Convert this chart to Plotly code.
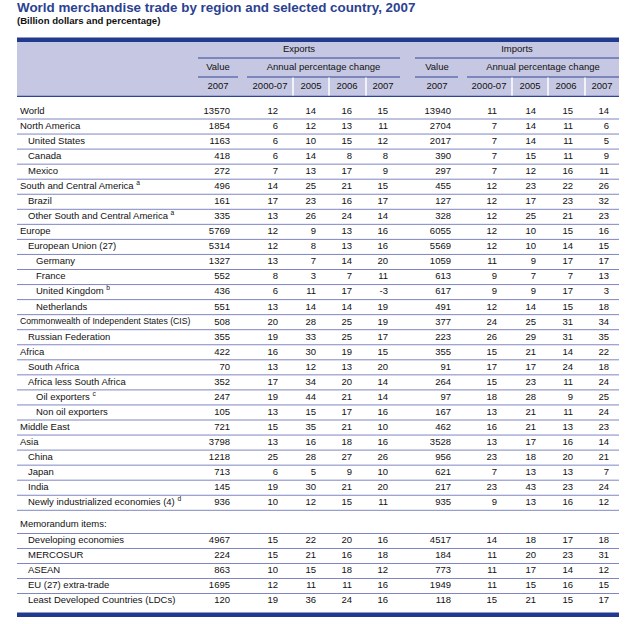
import plotly.graph_objects as go

# ---------------- data ----------------
regions = [
    "World", "North America", "United States", "Canada", "Mexico",
    "South and Central America <sup>a</sup>", "Brazil",
    "Other South and Central America <sup>a</sup>", "Europe",
    "European Union (27)", "Germany", "France", "United Kingdom <sup>b</sup>",
    "Netherlands", "Commonwealth of Independent States (CIS)",
    "Russian Federation", "Africa", "South Africa", "Africa less South Africa",
    "Oil exporters <sup>c</sup>", "Non oil exporters", "Middle East", "Asia",
    "China", "Japan", "India", "Newly industrialized economies (4) <sup>d</sup>",
]
region_levels = [0, 0, 1, 1, 1, 0, 1, 1, 0, 1, 2, 2, 2, 2, 0, 1, 0, 1, 1, 2, 2, 0, 0, 1, 1, 1, 1]

memo_title = "Memorandum items:"
memo_items = ["Developing economies", "MERCOSUR", "ASEAN", "EU (27) extra-trade",
              "Least Developed Countries (LDCs)"]

exp_value = [13570, 1854, 1163, 418, 272, 496, 161, 335, 5769, 5314, 1327, 552, 436, 551,
             508, 355, 422, 70, 352, 247, 105, 721, 3798, 1218, 713, 145, 936,
             4967, 224, 863, 1695, 120]
exp_2000_07 = [12, 6, 6, 6, 7, 14, 17, 13, 12, 12, 13, 8, 6, 13, 20, 19, 16, 13, 17, 19, 13,
               15, 13, 25, 6, 19, 10, 15, 15, 10, 12, 19]
exp_2005 = [14, 12, 10, 14, 13, 25, 23, 26, 9, 8, 7, 3, 11, 14, 28, 33, 30, 12, 34, 44, 15,
            35, 16, 28, 5, 30, 12, 22, 21, 15, 11, 36]
exp_2006 = [16, 13, 15, 8, 17, 21, 16, 24, 13, 13, 14, 7, 17, 14, 25, 25, 19, 13, 20, 21, 17,
            21, 18, 27, 9, 21, 15, 20, 16, 18, 11, 24]
exp_2007 = [15, 11, 12, 8, 9, 15, 17, 14, 16, 16, 20, 11, -3, 19, 19, 17, 15, 20, 14, 14, 16,
            10, 16, 26, 10, 20, 11, 16, 18, 12, 16, 16]

imp_value = [13940, 2704, 2017, 390, 297, 455, 127, 328, 6055, 5569, 1059, 613, 617, 491,
             377, 223, 355, 91, 264, 97, 167, 462, 3528, 956, 621, 217, 935,
             4517, 184, 773, 1949, 118]
imp_2000_07 = [11, 7, 7, 7, 7, 12, 12, 12, 12, 12, 11, 9, 9, 12, 24, 26, 15, 17, 15, 18, 13,
               16, 13, 23, 7, 23, 9, 14, 11, 11, 11, 15]
imp_2005 = [14, 14, 14, 15, 12, 23, 17, 25, 10, 10, 9, 7, 9, 14, 25, 29, 21, 17, 23, 28, 21,
            21, 17, 18, 13, 43, 13, 18, 20, 17, 15, 21]
imp_2006 = [15, 11, 11, 11, 16, 22, 23, 21, 15, 14, 17, 7, 17, 15, 31, 31, 14, 24, 11, 9, 11,
            13, 16, 20, 13, 23, 16, 17, 23, 14, 16, 15]
imp_2007 = [14, 6, 5, 9, 11, 26, 32, 23, 16, 15, 17, 13, 3, 18, 34, 35, 22, 18, 24, 25, 24,
            23, 14, 21, 7, 24, 12, 18, 31, 12, 15, 17]

period_labels = ["2000-07", "2005", "2006", "2007"]
value_label = "2007"

# ---------------- style / geometry ----------------
W, H = 634, 624
NAVY = "#223A8E"
HDR_BG = "#C6C8E3"
LINE = "#7F86C3"
HDR_LINE = "#2E4595"
TITLE_C = "#2B4290"
FONT = "Liberation Sans, Arial, sans-serif"
FS = 9.5

X0, X1 = 17, 619
ROW0, PITCH = 111.5, 15.05
MEMO_LABEL_Y = 525
MEMO0, MEMO_PITCH = 541, 15.0

n_main = len(regions)
main_y = [ROW0 + i * PITCH for i in range(n_main)]
memo_y = [MEMO0 + j * MEMO_PITCH for j in range(len(memo_items))]
all_y = main_y + memo_y

labels = regions + memo_items
levels = region_levels + [1] * len(memo_items)

blocks = {
    "Exports": dict(start=198, end=400, val_c=218, val_r=230, val_end=238, apc_start=247,
                    cents=[270, 311, 347, 383], rights=[278, 316, 352, 388], seps=[293, 329, 366]),
    "Imports": dict(start=415, end=619, val_c=437, val_r=451, val_end=458, apc_start=467,
                    cents=[489, 530, 566, 602], rights=[497, 536, 573, 609], seps=[512, 548, 585]),
}
series = {
    "Exports": [exp_value, exp_2000_07, exp_2005, exp_2006, exp_2007],
    "Imports": [imp_value, imp_2000_07, imp_2005, imp_2006, imp_2007],
}

fig = go.Figure()
shapes = []
def hline(x0, x1, y, color, w=1):
    shapes.append(dict(type="line", xref="x", yref="y", x0=x0, x1=x1, y0=y, y1=y,
                       line=dict(color=color, width=w), layer="above"))

shapes.append(dict(type="rect", xref="x", yref="y", x0=X0, x1=X1, y0=42, y1=96,
                   fillcolor=HDR_BG, line=dict(width=0), layer="below"))
shapes.append(dict(type="rect", xref="x", yref="y", x0=X0, x1=X1, y0=37.5, y1=42,
                   fillcolor=NAVY, line=dict(width=0), layer="below"))
hline(X0, X1, 96.3, HDR_LINE, 1.3)
shapes.append(dict(type="rect", xref="x", yref="y", x0=X0, x1=X1, y0=612.5, y1=617,
                   fillcolor=NAVY, line=dict(width=0), layer="below"))

for y in main_y:
    hline(X0, X1, y + 7.5, LINE, 1)
hline(X0, X1, memo_y[0] - 7.5, LINE, 1)
for y in memo_y[:-1]:
    hline(X0, X1, y + 7.5, LINE, 1)

hx, hy, ht = [], [], []
for name, b in blocks.items():
    hx.append((b["start"] + b["end"]) / 2); hy.append(49.5); ht.append(name)
    hline(b["start"], b["end"], 58, HDR_LINE, 1)
    hline(b["start"], b["val_end"], 77, HDR_LINE, 1)
    hline(b["apc_start"], b["end"], 77, HDR_LINE, 1)
    hx.append(b["val_c"]); hy.append(68); ht.append("Value")
    hx.append((b["apc_start"] + b["end"]) / 2); hy.append(68); ht.append("Annual percentage change")
    hx.append(b["val_c"]); hy.append(87); ht.append(value_label)
    for c, lab in zip(b["cents"], period_labels):
        hx.append(c); hy.append(87); ht.append(lab)
    for s in b["seps"]:
        shapes.append(dict(type="line", xref="x", yref="y", x0=s, x1=s, y0=77.6, y1=95.6,
                           line=dict(color="white", width=1.5), layer="above"))

fig.add_trace(go.Scatter(x=hx, y=hy, text=ht, mode="text", textposition="middle center",
                         textfont=dict(family=FONT, size=FS, color="#111"), hoverinfo="skip"))

label_sizes = [8.7 if "Commonwealth" in l else FS for l in labels]
fig.add_trace(go.Scatter(x=[20 + 8 * lv for lv in levels], y=all_y, text=labels, mode="text",
                         textposition="middle right",
                         textfont=dict(family=FONT, size=label_sizes, color="#111"),
                         hoverinfo="skip"))
fig.add_trace(go.Scatter(x=[20], y=[MEMO_LABEL_Y], text=[memo_title], mode="text",
                         textposition="middle right",
                         textfont=dict(family=FONT, size=FS, color="#111"), hoverinfo="skip"))

for name, b in blocks.items():
    rights = [b["val_r"]] + b["rights"]
    for col, xr in zip(series[name], rights):
        fig.add_trace(go.Scatter(x=[xr] * len(col), y=all_y, text=[str(v) for v in col],
                                 mode="text", textposition="middle left",
                                 textfont=dict(family=FONT, size=FS, color="#111"),
                                 hoverinfo="skip"))

fig.add_trace(go.Scatter(x=[17], y=[8.5], text=["World merchandise trade by region and selected country, 2007"],
                         mode="text", textposition="middle right", cliponaxis=False,
                         textfont=dict(family=FONT, size=13.4, color=TITLE_C, weight="bold"),
                         hoverinfo="skip"))
fig.add_trace(go.Scatter(x=[17], y=[22], text=["(Billion dollars and percentage)"],
                         mode="text", textposition="middle right",
                         textfont=dict(family=FONT, size=9.6, color="#111", weight="bold"),
                         hoverinfo="skip"))

fig.update_layout(
    width=W, height=H, margin=dict(l=0, r=0, t=0, b=0),
    paper_bgcolor="white", plot_bgcolor="white", showlegend=False,
    xaxis=dict(range=[0, W], visible=False, fixedrange=True),
    yaxis=dict(range=[H, 0], visible=False, fixedrange=True),
    shapes=shapes,
)
# remove the page's default 8px body margin so the figure sits at the window origin
fig.write_html("out.html", config={"displayModeBar": False},
               post_script="document.body.style.margin='0';")
